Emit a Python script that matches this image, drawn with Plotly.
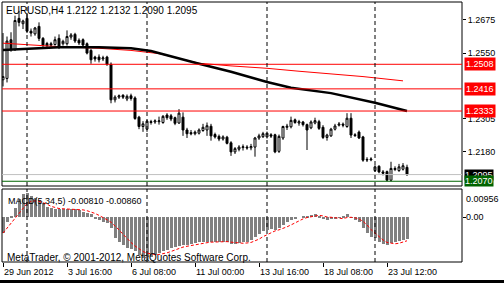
import plotly.graph_objects as go

W, H = 504, 283

symbol = "EURUSD,H4"
bar_index = list(range(102))

opens = [1.2450, 1.2455, 1.2600, 1.2563, 1.2680, 1.2660, 1.2680, 1.2632, 1.2622, 1.2650,
         1.2605, 1.2578, 1.2585, 1.2582, 1.2605, 1.2585, 1.2585, 1.2610, 1.2620, 1.2598,
         1.2600, 1.2585, 1.2560, 1.2535, 1.2535, 1.2528, 1.2535, 1.2508, 1.2375, 1.2385,
         1.2392, 1.2378, 1.2390, 1.2382, 1.2310, 1.2275, 1.2265, 1.2290, 1.2292, 1.2293,
         1.2290, 1.2318, 1.2315, 1.2308, 1.2288, 1.2310, 1.2262, 1.2252, 1.2248, 1.2250,
         1.2260, 1.2262, 1.2276, 1.2245, 1.2238, 1.2228, 1.2235, 1.2214, 1.2180, 1.2190,
         1.2196, 1.2198, 1.2195, 1.2198, 1.2232, 1.2237, 1.2236, 1.2244, 1.2244, 1.2182,
         1.2232, 1.2272, 1.2274, 1.2300, 1.2288, 1.2292, 1.2282, 1.2270, 1.2288, 1.2293,
         1.2272, 1.2234, 1.2240, 1.2265, 1.2280, 1.2284, 1.2275, 1.2306, 1.2244, 1.2254,
         1.2236, 1.2152, 1.2150, 1.2110, 1.2126, 1.2105, 1.2106, 1.2074, 1.2114, 1.2110,
         1.2115, 1.2122]
highs = [1.2625, 1.2612, 1.2628, 1.2690, 1.2708, 1.2675, 1.2700, 1.2642, 1.2648, 1.2665,
         1.2610, 1.2592, 1.2592, 1.2612, 1.2620, 1.2600, 1.2635, 1.2625, 1.2626, 1.2605,
         1.2605, 1.2590, 1.2565, 1.2540, 1.2545, 1.2540, 1.2540, 1.2515, 1.2392, 1.2395,
         1.2396, 1.2395, 1.2398, 1.2388, 1.2315, 1.2295, 1.2300, 1.2300, 1.2302, 1.2312,
         1.2318, 1.2325, 1.2322, 1.2312, 1.2340, 1.2328, 1.2270, 1.2262, 1.2260, 1.2268,
         1.2285, 1.2290, 1.2285, 1.2252, 1.2245, 1.2242, 1.2240, 1.2220, 1.2198, 1.2205,
         1.2208, 1.2205, 1.2210, 1.2236, 1.2248, 1.2255, 1.2256, 1.2250, 1.2248, 1.2245,
         1.2278, 1.2285, 1.2312, 1.2305, 1.2300, 1.2296, 1.2286, 1.2298, 1.2308, 1.2300,
         1.2280, 1.2248, 1.2270, 1.2285, 1.2292, 1.2290, 1.2325, 1.2325, 1.2250, 1.2260,
         1.2240, 1.2160, 1.2160, 1.2130, 1.2130, 1.2112, 1.2110, 1.2143, 1.2126, 1.2135,
         1.2138, 1.2132]
lows = [1.2425, 1.2440, 1.2555, 1.2558, 1.2650, 1.2640, 1.2625, 1.2612, 1.2615, 1.2595,
        1.2570, 1.2572, 1.2574, 1.2578, 1.2565, 1.2578, 1.2578, 1.2600, 1.2588, 1.2580,
        1.2575, 1.2545, 1.2510, 1.2518, 1.2515, 1.2520, 1.2502, 1.2362, 1.2365, 1.2378,
        1.2378, 1.2370, 1.2372, 1.2300, 1.2265, 1.2255, 1.2255, 1.2282, 1.2285, 1.2282,
        1.2285, 1.2300, 1.2295, 1.2280, 1.2285, 1.2240, 1.2232, 1.2242, 1.2242, 1.2245,
        1.2255, 1.2240, 1.2222, 1.2230, 1.2220, 1.2222, 1.2208, 1.2165, 1.2172, 1.2182,
        1.2185, 1.2188, 1.2186, 1.2162, 1.2225, 1.2232, 1.2230, 1.2232, 1.2175, 1.2176,
        1.2225, 1.2262, 1.2268, 1.2285, 1.2278, 1.2275, 1.2187, 1.2265, 1.2283, 1.2262,
        1.2228, 1.2222, 1.2236, 1.2260, 1.2275, 1.2272, 1.2270, 1.2232, 1.2236, 1.2228,
        1.2143, 1.2142, 1.2145, 1.2105, 1.2100, 1.2092, 1.2070, 1.2070, 1.2108, 1.2105,
        1.2110, 1.2090]
closes = [1.2462, 1.2595, 1.2563, 1.2672, 1.2665, 1.2670, 1.2632, 1.2625, 1.2644, 1.2605,
          1.2580, 1.2586, 1.2580, 1.2600, 1.2572, 1.2594, 1.2612, 1.2618, 1.2595, 1.2588,
          1.2580, 1.2550, 1.2525, 1.2528, 1.2525, 1.2532, 1.2508, 1.2375, 1.2385, 1.2390,
          1.2385, 1.2388, 1.2380, 1.2305, 1.2275, 1.2285, 1.2295, 1.2293, 1.2296, 1.2296,
          1.2313, 1.2308, 1.2303, 1.2287, 1.2325, 1.2262, 1.2248, 1.2248, 1.2254, 1.2262,
          1.2272, 1.2278, 1.2240, 1.2236, 1.2228, 1.2236, 1.2212, 1.2180, 1.2192, 1.2198,
          1.2199, 1.2195, 1.2200, 1.2232, 1.2240, 1.2248, 1.2250, 1.2239, 1.2180, 1.2238,
          1.2275, 1.2276, 1.2298, 1.2290, 1.2293, 1.2282, 1.2262, 1.2292, 1.2297, 1.2268,
          1.2234, 1.2243, 1.2265, 1.2277, 1.2284, 1.2280, 1.2306, 1.2243, 1.2241, 1.2232,
          1.2149, 1.2150, 1.2153, 1.2124, 1.2105, 1.2100, 1.2074, 1.2118, 1.2118, 1.2124,
          1.2128, 1.2095]

# moving averages read at selected bars
ma_black_idx = [0, 7, 14, 24, 32, 37, 42, 46, 49, 57, 66, 72, 82, 93, 101]
ma_black_val = [1.2562, 1.2567, 1.2572, 1.2572, 1.2568, 1.2558, 1.2538, 1.2520, 1.2510,
                1.2480, 1.2442, 1.2420, 1.2400, 1.2364, 1.2333]
ma_red_idx = [0, 7, 14, 24, 32, 39, 44, 49, 57, 66, 74, 82, 90, 100]
ma_red_val = [1.2587, 1.2580, 1.2574, 1.2568, 1.2560, 1.2548, 1.2530, 1.2512, 1.2502,
              1.2493, 1.2482, 1.2472, 1.2462, 1.2446]

macd_main = [-0.0058, -0.0016, 0.0002, 0.0033, 0.0067, 0.0085, 0.0090, 0.0077, 0.0069, 0.0063,
             0.0051, 0.0039, 0.0035, 0.0030, 0.0029, 0.0030, 0.0029, 0.0030, 0.0030, 0.0027,
             0.0021, 0.0015, 0.0011, -0.0004, -0.0010, -0.0016, -0.0022, -0.0040, -0.0077, -0.0089,
             -0.0101, -0.0111, -0.0116, -0.0125, -0.0137, -0.0150, -0.0146, -0.0144, -0.0137, -0.0131,
             -0.0125, -0.0119, -0.0113, -0.0107, -0.0105, -0.0103, -0.0101, -0.0099, -0.0095, -0.0091,
             -0.0089, -0.0089, -0.0089, -0.0089, -0.0089, -0.0089, -0.0091, -0.0099, -0.0099, -0.0095,
             -0.0091, -0.0089, -0.0083, -0.0071, -0.0062, -0.0052, -0.0046, -0.0044, -0.0046, -0.0040,
             -0.0028, -0.0016, -0.0010, -0.0004, 0.0000, 0.0002, 0.0005, 0.0009, 0.0011, 0.0006,
             -0.0004, -0.0010, -0.0004, -0.0006, -0.0001, 0.0002, 0.0011, -0.0001, -0.0010, -0.0016,
             -0.0040, -0.0058, -0.0071, -0.0077, -0.0089, -0.0099, -0.0103, -0.0095, -0.0091, -0.0086,
             -0.0083, -0.0081]
macd_signal = [-0.0058, -0.0040, -0.0022, -0.0002, 0.0018, 0.0035, 0.0050, 0.0058, 0.0060, 0.0058,
               0.0054, 0.0048, 0.0040, 0.0035, 0.0032, 0.0031, 0.0030, 0.0030, 0.0030, 0.0029,
               0.0027, 0.0024, 0.0020, 0.0014, 0.0007, 0.0000, -0.0009, -0.0018, -0.0031, -0.0046,
               -0.0062, -0.0078, -0.0092, -0.0105, -0.0116, -0.0125, -0.0131, -0.0134, -0.0136, -0.0136,
               -0.0134, -0.0130, -0.0125, -0.0119, -0.0114, -0.0109, -0.0106, -0.0103, -0.0100, -0.0097,
               -0.0095, -0.0093, -0.0091, -0.0090, -0.0089, -0.0089, -0.0089, -0.0091, -0.0093, -0.0094,
               -0.0095, -0.0094, -0.0092, -0.0086, -0.0080, -0.0071, -0.0063, -0.0055, -0.0050, -0.0046,
               -0.0041, -0.0035, -0.0028, -0.0020, -0.0012, -0.0006, -0.0001, 0.0002, 0.0005, 0.0007,
               0.0005, 0.0001, 0.0000, -0.0002, -0.0005, -0.0005, -0.0001, 0.0000, -0.0002, -0.0006,
               -0.0015, -0.0028, -0.0045, -0.0058, -0.0072, -0.0083, -0.0092, -0.0095, -0.0097, -0.0095,
               -0.0091, -0.0086]

price_ticks = [1.2675, 1.2550, 1.2305, 1.2180]
macd_ticks = [0.00956, 0.00, -0.01638]
macd_tick_text = ["0.00956", "0.00", "-0.01638"]
time_tick_idx = [0, 16, 32, 48, 64, 80, 96]
time_tick_text = ["29 Jun 2012", "3 Jul 16:00", "6 Jul 08:00", "11 Jul 00:00",
                  "13 Jul 16:00", "18 Jul 08:00", "23 Jul 12:00"]
separator_idx = [6, 36, 66, 93]
hlines_red = [1.2508, 1.2416, 1.2333]
bid_price = 1.2095
green_level = 1.2070

FONT = "Liberation Sans, Arial, sans-serif"

def fx(p):
    return p / W

def fy(p):
    return 1 - p / H

MAIN_TOP, MAIN_BOT = 2, 186
SUB_TOP, SUB_BOT = 189, 262
LEFT, RIGHT = 2, 462

fig = go.Figure()

fig.add_trace(go.Candlestick(
    x=bar_index, open=opens, high=highs, low=lows, close=closes,
    increasing=dict(line=dict(color="black", width=1), fillcolor="white"),
    decreasing=dict(line=dict(color="black", width=1), fillcolor="black"),
    whiskerwidth=0, showlegend=False, xaxis="x", yaxis="y", hoverinfo="skip"))

fig.add_trace(go.Scatter(x=ma_red_idx, y=ma_red_val, mode="lines",
                         line=dict(color="#FF0000", width=1), showlegend=False,
                         xaxis="x", yaxis="y"))
fig.add_trace(go.Scatter(x=ma_black_idx, y=ma_black_val, mode="lines",
                         line=dict(color="black", width=2.5), showlegend=False,
                         xaxis="x", yaxis="y"))

fig.add_trace(go.Bar(x=bar_index, y=macd_main, width=0.75,
                     marker=dict(color="#808080", line=dict(width=0)),
                     showlegend=False, xaxis="x", yaxis="y2"))
fig.add_trace(go.Scatter(x=bar_index, y=macd_signal, mode="lines",
                         line=dict(color="#FF0000", width=1, dash="3px,2px"),
                         showlegend=False, xaxis="x", yaxis="y2"))

shapes = []
shapes.append(dict(type="rect", xref="paper", yref="paper", x0=fx(LEFT), x1=fx(RIGHT),
                   y0=fy(MAIN_BOT), y1=fy(MAIN_TOP), line=dict(color="black", width=1)))
shapes.append(dict(type="rect", xref="paper", yref="paper", x0=fx(LEFT), x1=fx(RIGHT),
                   y0=fy(SUB_BOT), y1=fy(SUB_TOP), line=dict(color="black", width=1)))
shapes.append(dict(type="rect", xref="paper", yref="paper", x0=0, x1=1,
                   y0=0, y1=fy(280), line=dict(width=0), fillcolor="black"))
for lv in hlines_red:
    shapes.append(dict(type="line", xref="paper", yref="y", x0=fx(LEFT), x1=fx(RIGHT),
                       y0=lv, y1=lv, line=dict(color="#FF0000", width=1)))
shapes.append(dict(type="line", xref="paper", yref="y", x0=fx(LEFT), x1=fx(RIGHT),
                   y0=bid_price, y1=bid_price, line=dict(color="#C0C0C0", width=1)))
shapes.append(dict(type="line", xref="paper", yref="y", x0=fx(LEFT), x1=fx(RIGHT),
                   y0=green_level, y1=green_level, line=dict(color="#006400", width=1)))
for s in separator_idx:
    shapes.append(dict(type="line", xref="x", yref="paper", x0=s, x1=s,
                       y0=fy(MAIN_BOT), y1=fy(MAIN_TOP),
                       line=dict(color="black", width=1, dash="4px,3px")))
    shapes.append(dict(type="line", xref="x", yref="paper", x0=s, x1=s,
                       y0=fy(SUB_BOT), y1=fy(SUB_TOP),
                       line=dict(color="black", width=1, dash="4px,3px")))

annotations = []
header = f"{symbol} {opens[-1]:.4f} {highs[-1]:.4f} {lows[-1]:.4f} {closes[-1]:.4f}"
annotations.append(dict(text=header, xref="paper", yref="paper", x=fx(4), y=fy(10),
                        xanchor="left", yanchor="middle", showarrow=False,
                        font=dict(family=FONT, size=10, color="black")))
annotations.append(dict(text=f"MACD(5,34,5) {macd_main[-1]:.5f} {macd_signal[-1]:.5f}",
                        xref="paper", yref="paper", x=fx(6), y=fy(201),
                        xanchor="left", yanchor="middle", showarrow=False,
                        font=dict(family=FONT, size=9, color="black")))
annotations.append(dict(text="MetaTrader, © 2001-2012, MetaQuotes Software Corp.",
                        xref="paper", yref="paper", x=fx(5), y=fy(257),
                        xanchor="left", yanchor="middle", showarrow=False,
                        font=dict(family=FONT, size=10, color="black")))
for idx, txt in zip(time_tick_idx, time_tick_text):
    annotations.append(dict(text=txt, xref="x", yref="paper", x=idx, y=fy(272),
                            xanchor="left", yanchor="middle", showarrow=False, xshift=-1,
                            font=dict(family=FONT, size=9, color="black")))
macd_shift = [-8, 0, 7]
for v, t, sh in zip(macd_ticks, macd_tick_text, macd_shift):
    annotations.append(dict(text=t, xref="paper", yref="y2", x=fx(464), y=v,
                            xanchor="left", yanchor="middle", showarrow=False, yshift=sh,
                            font=dict(family=FONT, size=9, color="black")))
for lv in hlines_red:
    annotations.append(dict(text=f"{lv:.4f}", xref="paper", yref="y", x=fx(464), y=lv,
                            xanchor="left", yanchor="middle", showarrow=False,
                            bgcolor="#FF0000", borderpad=1,
                            font=dict(family=FONT, size=9, color="white")))
annotations.append(dict(text=f"{bid_price:.4f}", xref="paper", yref="y", x=fx(464), y=bid_price,
                        xanchor="left", yanchor="middle", showarrow=False,
                        bgcolor="black", borderpad=0,
                        font=dict(family=FONT, size=9, color="white")))
annotations.append(dict(text=f"{green_level:.4f}", xref="paper", yref="y", x=fx(464), y=green_level,
                        xanchor="left", yanchor="middle", showarrow=False,
                        bgcolor="#006400", borderpad=0,
                        font=dict(family=FONT, size=9, color="white")))

fig.update_layout(
    width=W, height=H, margin=dict(l=0, r=0, t=0, b=0),
    paper_bgcolor="white", plot_bgcolor="white",
    showlegend=False, bargap=0,
    xaxis=dict(domain=[fx(LEFT), fx(RIGHT)], range=[-0.25, 114.75], anchor="y2",
               showgrid=False, zeroline=False, showline=False,
               tickvals=time_tick_idx, ticks="outside", ticklen=4, tickcolor="black",
               showticklabels=False, rangeslider=dict(visible=False), fixedrange=True),
    yaxis=dict(domain=[fy(MAIN_BOT), fy(MAIN_TOP)], range=[1.20522, 1.27413], anchor="x",
               side="right", showgrid=False, zeroline=False, showline=False,
               tickvals=price_ticks, ticktext=[f"{v:.4f}" for v in price_ticks],
               ticks="outside", ticklen=3, tickcolor="black",
               tickfont=dict(family=FONT, size=9, color="black")),
    yaxis2=dict(domain=[fy(SUB_BOT), fy(SUB_TOP)], range=[-0.01635, 0.01033], anchor="x",
                side="right", showgrid=False, zeroline=False, showline=False,
                tickvals=[0], ticks="outside", ticklen=3, tickcolor="black",
                showticklabels=False),
    shapes=shapes, annotations=annotations,
)

fig.write_html("out.html")
